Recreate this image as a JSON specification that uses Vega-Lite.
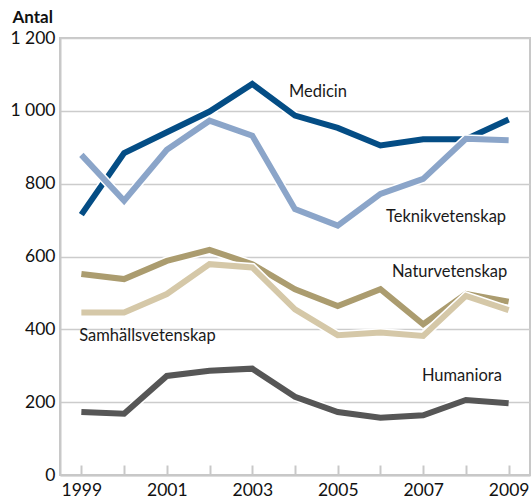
{
  "$schema": "https://vega.github.io/schema/vega-lite/v6.json",
  "width": 470,
  "height": 437,
  "autosize": {"type": "none"},
  "padding": {"left": 60, "top": 38, "right": 2, "bottom": 27},
  "background": "white",
  "config": {"view": {"stroke": "#c8c8c8", "strokeWidth": 2}, "font": "Lato"},
  "datasets": {
    "series": [
      {"series": "Medicin", "year": 1999, "value": 715},
      {"series": "Medicin", "year": 2000, "value": 884},
      {"series": "Medicin", "year": 2001, "value": 941},
      {"series": "Medicin", "year": 2002, "value": 998},
      {"series": "Medicin", "year": 2003, "value": 1074},
      {"series": "Medicin", "year": 2004, "value": 987},
      {"series": "Medicin", "year": 2005, "value": 953},
      {"series": "Medicin", "year": 2006, "value": 905},
      {"series": "Medicin", "year": 2007, "value": 922},
      {"series": "Medicin", "year": 2008, "value": 922},
      {"series": "Medicin", "year": 2009, "value": 976},
      {"series": "Teknikvetenskap", "year": 1999, "value": 879},
      {"series": "Teknikvetenskap", "year": 2000, "value": 753},
      {"series": "Teknikvetenskap", "year": 2001, "value": 893},
      {"series": "Teknikvetenskap", "year": 2002, "value": 973},
      {"series": "Teknikvetenskap", "year": 2003, "value": 932},
      {"series": "Teknikvetenskap", "year": 2004, "value": 730},
      {"series": "Teknikvetenskap", "year": 2005, "value": 685},
      {"series": "Teknikvetenskap", "year": 2006, "value": 772},
      {"series": "Teknikvetenskap", "year": 2007, "value": 813},
      {"series": "Teknikvetenskap", "year": 2008, "value": 923},
      {"series": "Teknikvetenskap", "year": 2009, "value": 919},
      {"series": "Naturvetenskap", "year": 1999, "value": 552},
      {"series": "Naturvetenskap", "year": 2000, "value": 538},
      {"series": "Naturvetenskap", "year": 2001, "value": 588},
      {"series": "Naturvetenskap", "year": 2002, "value": 618},
      {"series": "Naturvetenskap", "year": 2003, "value": 579},
      {"series": "Naturvetenskap", "year": 2004, "value": 510},
      {"series": "Naturvetenskap", "year": 2005, "value": 464},
      {"series": "Naturvetenskap", "year": 2006, "value": 510},
      {"series": "Naturvetenskap", "year": 2007, "value": 414},
      {"series": "Naturvetenskap", "year": 2008, "value": 497},
      {"series": "Naturvetenskap", "year": 2009, "value": 476},
      {"series": "Samhällsvetenskap", "year": 1999, "value": 446},
      {"series": "Samhällsvetenskap", "year": 2000, "value": 446},
      {"series": "Samhällsvetenskap", "year": 2001, "value": 497},
      {"series": "Samhällsvetenskap", "year": 2002, "value": 579},
      {"series": "Samhällsvetenskap", "year": 2003, "value": 570},
      {"series": "Samhällsvetenskap", "year": 2004, "value": 455},
      {"series": "Samhällsvetenskap", "year": 2005, "value": 384},
      {"series": "Samhällsvetenskap", "year": 2006, "value": 391},
      {"series": "Samhällsvetenskap", "year": 2007, "value": 382},
      {"series": "Samhällsvetenskap", "year": 2008, "value": 492},
      {"series": "Samhällsvetenskap", "year": 2009, "value": 453},
      {"series": "Humaniora", "year": 1999, "value": 173},
      {"series": "Humaniora", "year": 2000, "value": 168},
      {"series": "Humaniora", "year": 2001, "value": 272},
      {"series": "Humaniora", "year": 2002, "value": 286},
      {"series": "Humaniora", "year": 2003, "value": 292},
      {"series": "Humaniora", "year": 2004, "value": 215},
      {"series": "Humaniora", "year": 2005, "value": 173},
      {"series": "Humaniora", "year": 2006, "value": 157},
      {"series": "Humaniora", "year": 2007, "value": 164},
      {"series": "Humaniora", "year": 2008, "value": 206},
      {"series": "Humaniora", "year": 2009, "value": 197}
    ],
    "labels": [
      {"label": "Medicin", "year": 2003.86, "value": 1052},
      {"label": "Teknikvetenskap", "year": 2006.13, "value": 708},
      {"label": "Naturvetenskap", "year": 2006.27, "value": 557},
      {"label": "Samhällsvetenskap", "year": 1998.95, "value": 381},
      {"label": "Humaniora", "year": 2006.97, "value": 271}
    ]
  },
  "encoding": {
    "x": {
      "field": "year",
      "type": "quantitative",
      "scale": {"domain": [1998.5, 2009.5], "nice": false, "zero": false},
      "axis": {
        "values": [1999, 2000, 2001, 2002, 2003, 2004, 2005, 2006, 2007, 2008, 2009],
        "format": "d",
        "labelExpr": "datum.value % 2 == 1 ? datum.label : ''",
        "grid": false,
        "domainColor": "#c8c8c8",
        "domainWidth": 2,
        "tickColor": "#c8c8c8",
        "tickWidth": 2,
        "tickSize": -10,
        "labelPadding": 16,
        "labelFontSize": 17.5,
        "labelColor": "#111111",
        "labelFlush": false,
        "labelOverlap": false,
        "title": null
      }
    },
    "y": {
      "field": "value",
      "type": "quantitative",
      "scale": {"domain": [0, 1200], "nice": false},
      "axis": {
        "values": [0, 200, 400, 600, 800, 1000, 1200],
        "format": ",d",
        "labelExpr": "replace(datum.label, ',', ' ')",
        "ticks": false,
        "domainColor": "#c8c8c8",
        "domainWidth": 2,
        "gridColor": "#cccccc",
        "gridWidth": 1.5,
        "labelPadding": 5,
        "labelFontSize": 17.5,
        "labelColor": "#111111",
        "labelFlush": false,
        "title": "Antal",
        "titleAngle": 0,
        "titleAlign": "left",
        "titleBaseline": "middle",
        "titleX": -48,
        "titleY": -21,
        "titleFontSize": 17,
        "titleFontWeight": "bold",
        "titleColor": "#111111"
      }
    }
  },
  "layer": [
    {"data": {"name": "series"}, "transform": [{"filter": "datum.series == 'Humaniora'"}], "mark": {"type": "line", "color": "white", "strokeWidth": 9}},
    {"data": {"name": "series"}, "transform": [{"filter": "datum.series == 'Humaniora'"}], "mark": {"type": "line", "color": "#565656", "strokeWidth": 6}},
    {"data": {"name": "series"}, "transform": [{"filter": "datum.series == 'Naturvetenskap'"}], "mark": {"type": "line", "color": "white", "strokeWidth": 9}},
    {"data": {"name": "series"}, "transform": [{"filter": "datum.series == 'Naturvetenskap'"}], "mark": {"type": "line", "color": "#ab9c6f", "strokeWidth": 6}},
    {"data": {"name": "series"}, "transform": [{"filter": "datum.series == 'Samhällsvetenskap'"}], "mark": {"type": "line", "color": "white", "strokeWidth": 9}},
    {"data": {"name": "series"}, "transform": [{"filter": "datum.series == 'Samhällsvetenskap'"}], "mark": {"type": "line", "color": "#d5c8a8", "strokeWidth": 6}},
    {"data": {"name": "series"}, "transform": [{"filter": "datum.series == 'Medicin'"}], "mark": {"type": "line", "color": "white", "strokeWidth": 9}},
    {"data": {"name": "series"}, "transform": [{"filter": "datum.series == 'Medicin'"}], "mark": {"type": "line", "color": "#044d85", "strokeWidth": 6}},
    {"data": {"name": "series"}, "transform": [{"filter": "datum.series == 'Teknikvetenskap'"}], "mark": {"type": "line", "color": "white", "strokeWidth": 9}},
    {"data": {"name": "series"}, "transform": [{"filter": "datum.series == 'Teknikvetenskap'"}], "mark": {"type": "line", "color": "#8ba5c9", "strokeWidth": 6}},
    {
      "data": {"name": "labels"},
      "mark": {"type": "text", "align": "left", "baseline": "middle", "fontSize": 16.5, "color": "#1a1a1a"},
      "encoding": {"text": {"field": "label"}}
    }
  ]
}
